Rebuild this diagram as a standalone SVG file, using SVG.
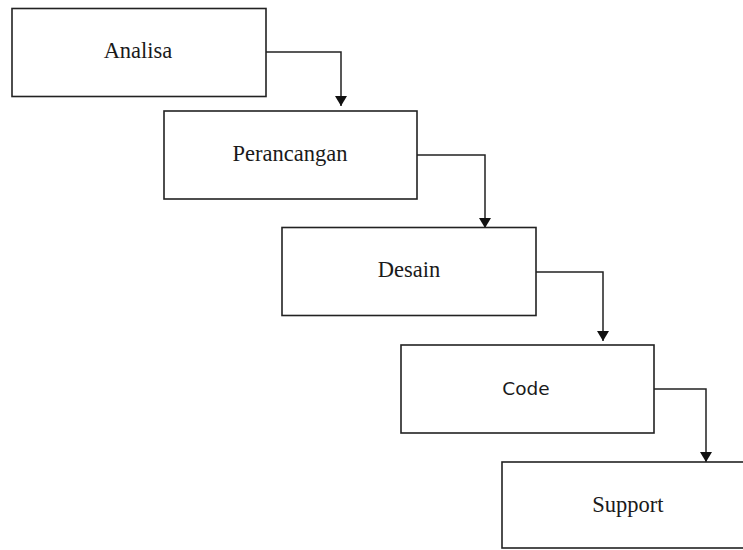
<svg xmlns="http://www.w3.org/2000/svg" width="743" height="550" viewBox="0 0 743 550">
<defs>
<marker id="arr" viewBox="0 0 10 12" refX="10" refY="6" markerWidth="10" markerHeight="12" markerUnits="userSpaceOnUse" orient="auto">
<path d="M0,0 L10,6 L0,12 Z" fill="#111"/>
</marker>
</defs>
<style>
.box{fill:#fff;stroke:#222;stroke-width:1.6}
.lbl{font-family:"Liberation Serif","Times New Roman",serif;font-size:22.5px;fill:#1a1a1a;text-anchor:middle}
.lbls{font-family:"DejaVu Sans",Verdana,sans-serif;font-size:18.5px;fill:#1a1a1a;text-anchor:middle}
.con{fill:none;stroke:#222;stroke-width:1.5;marker-end:url(#arr)}
</style>
<rect width="743" height="550" fill="#fff"/>
<g id="connectors">
<path class="con" d="M266,52 H341 V106"/>
<path class="con" d="M417,155 H485 V228"/>
<path class="con" d="M536,272 H603 V341"/>
<path class="con" d="M654,389 H706 V462"/>
</g>
<g id="analisa">
<rect class="box" x="12" y="8.5" width="254" height="88"/>
<text class="lbl" x="138" y="58">Analisa</text>
</g>
<g id="perancangan">
<rect class="box" x="164" y="111" width="253" height="88"/>
<text class="lbl" x="290" y="161">Perancangan</text>
</g>
<g id="desain">
<rect class="box" x="282" y="227.5" width="254" height="88"/>
<text class="lbl" x="409" y="277">Desain</text>
</g>
<g id="code">
<rect class="box" x="401" y="345" width="253" height="88"/>
<text class="lbls" x="526" y="395">Code</text>
</g>
<g id="support">
<rect class="box" x="502" y="462" width="260" height="86"/>
<text class="lbl" x="628" y="512">Support</text>
</g>
</svg>
